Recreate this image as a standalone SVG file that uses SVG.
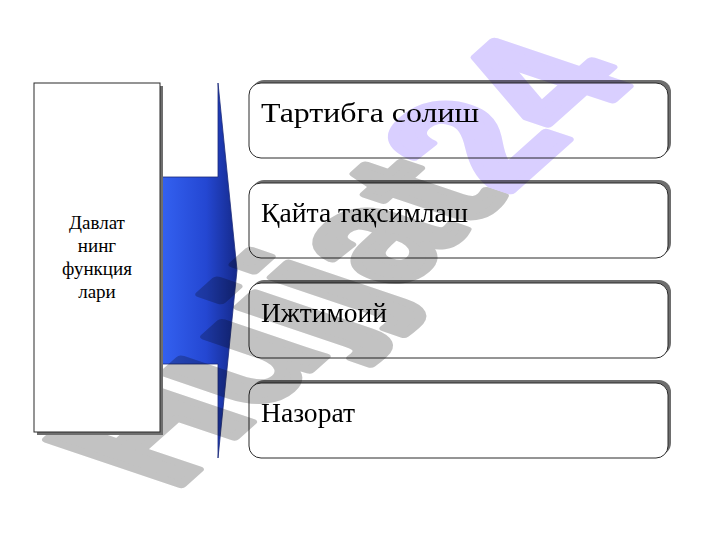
<svg xmlns="http://www.w3.org/2000/svg" width="720" height="540" viewBox="0 0 720 540">
  <defs>
    <linearGradient id="arrowGrad" gradientUnits="userSpaceOnUse" x1="160" y1="0" x2="237" y2="0">
      <stop offset="0" stop-color="#3462f2"/>
      <stop offset="0.6" stop-color="#2447d2"/>
      <stop offset="1" stop-color="#15298a"/>
    </linearGradient>
  </defs>
  <style>
    .sh { fill: #6e6e6e; }
    .box { fill: #ffffff; stroke: #2a2a2a; stroke-width: 1; }
    .lbl { font-family: "Liberation Serif", "DejaVu Serif", serif; font-size: 28px; fill: #000000; }
    .main { font-family: "Liberation Serif", "DejaVu Serif", serif; font-size: 19px; fill: #000000; text-anchor: middle; }
    .wm { font-family: "Liberation Sans", Arial, sans-serif; font-weight: bold; font-size: 100px; stroke-width: 5; stroke-linejoin: round; }
  </style>
  <rect x="0" y="0" width="720" height="540" fill="#ffffff"/>

  <g id="connectors">
    <path d="M160,177 L218,177 L218,83 L237,270 L218,458 L218,364 L160,364 Z" fill="url(#arrowGrad)" stroke="#1a2a78" stroke-width="0.8"/>
  </g>

  <g id="node-1">
    <rect class="sh" x="252" y="80" width="419" height="75" rx="12"/>
    <rect class="box" x="249" y="83" width="419" height="75" rx="12"/>
    <text class="lbl" x="261" y="122" textLength="218" lengthAdjust="spacingAndGlyphs">Тартибга солиш</text>
  </g>
  <g id="node-2">
    <rect class="sh" x="252" y="180" width="419" height="75" rx="12"/>
    <rect class="box" x="249" y="183" width="419" height="75" rx="12"/>
    <text class="lbl" x="261" y="222" textLength="207" lengthAdjust="spacingAndGlyphs">Қайта тақсимлаш</text>
  </g>
  <g id="node-3">
    <rect class="sh" x="252" y="280" width="419" height="75" rx="12"/>
    <rect class="box" x="249" y="283" width="419" height="75" rx="12"/>
    <text class="lbl" x="261" y="322" textLength="126" lengthAdjust="spacingAndGlyphs">Ижтимоий</text>
  </g>
  <g id="node-4">
    <rect class="sh" x="252" y="380" width="419" height="75" rx="12"/>
    <rect class="box" x="249" y="383" width="419" height="75" rx="12"/>
    <text class="lbl" x="261" y="422" textLength="94" lengthAdjust="spacingAndGlyphs">Назорат</text>
  </g>

  <g id="watermark" style="mix-blend-mode:multiply">
    <text class="wm" transform="matrix(1.2,-1.07,1.94,0.656,173,492)"><tspan fill="#c2c2c2" stroke="#c2c2c2">Hujjat</tspan><tspan fill="#d9cfff" stroke="#d9cfff">24</tspan></text>
  </g>

  <g id="node-main">
    <rect class="sh" x="37" y="86" width="126" height="349"/>
    <rect class="box" x="34" y="83" width="126" height="349"/>
    <text class="main" x="97" y="229">Давлат</text>
    <text class="main" x="97" y="252">нинг</text>
    <text class="main" x="97" y="275">функция</text>
    <text class="main" x="97" y="298">лари</text>
  </g>
</svg>
